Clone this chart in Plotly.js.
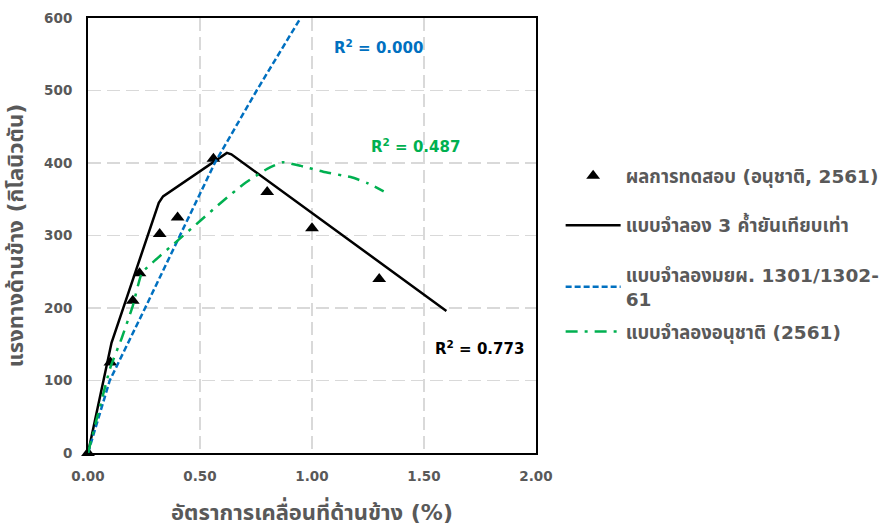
<!DOCTYPE html>
<html>
<head>
<meta charset="utf-8">
<script src="https://cdn.plot.ly/plotly-3.0.1.min.js"></script>
<style>
  html, body { margin: 0; padding: 0; background: #fff; }
  #chart { width: 886px; height: 525px; }
</style>
</head>
<body>
<div id="chart"></div>
<script>
// Test results (drift %, lateral force kN)
const testDrift = [0, 0.10, 0.20, 0.23, 0.32, 0.40, 0.56, 0.80, 1.00, 1.30];
const testForce = [0, 125, 210, 248, 302, 325, 406, 360, 310, 240];

// Three-strut equivalent model
const strutDrift = [0, 0.105, 0.316, 0.335, 0.62, 0.64, 1.60];
const strutForce = [0, 152, 345, 354, 414, 412, 196];

// DPT 1301/1302-61 model
const dptDrift = [0, 0.097, 0.255, 0.41, 0.566, 0.753, 0.949];
const dptForce = [0, 100, 200, 300, 400, 500, 600];

// Anuchat (2561) model
const anuDrift = [0, 0.10, 0.15, 0.20, 0.24, 0.30, 0.40, 0.50, 0.60, 0.70, 0.80, 0.87, 0.95, 1.05, 1.18, 1.25, 1.32];
const anuForce = [0, 118, 158, 203, 248, 266, 293, 320, 347, 372, 392, 401, 396, 388, 380, 372, 361];

const seriesNames = [
  'ผลการทดสอบ (อนุชาติ, 2561)',
  'แบบจำลอง 3 ค้ำยันเทียบเท่า',
  'แบบจำลองมยผ. 1301/1302-<br>61',
  'แบบจำลองอนุชาติ (2561)'
];

const r2Labels = ['R<sup>2</sup> = 0.000', 'R<sup>2</sup> = 0.487', 'R<sup>2</sup> = 0.773'];

const xTitle = 'อัตราการเคลื่อนที่ด้านข้าง (%)';
const yTitle = 'แรงทางด้านข้าง (กิโลนิวตัน)';

const FONT = '"DejaVu Sans", "Noto Sans Thai", sans-serif';
const GREY = '#595959';
const BLUE = '#0070C0';
const GREEN = '#00B050';

const traces = [
  {
    x: testDrift, y: testForce, name: seriesNames[0], type: 'scatter', mode: 'markers',
    marker: { symbol: 'triangle-up', size: 12, color: '#000' },
    cliponaxis: false, legendgroup: 'a'
  },
  {
    x: strutDrift, y: strutForce, name: seriesNames[1], type: 'scatter', mode: 'lines',
    line: { color: '#000', width: 2.5 }, legendgroup: 'b'
  },
  {
    x: dptDrift, y: dptForce, name: seriesNames[2], type: 'scatter', mode: 'lines',
    line: { color: BLUE, width: 2.5, dash: '6px,3px' }, legendgroup: 'c'
  },
  {
    x: anuDrift, y: anuForce, name: seriesNames[3], type: 'scatter', mode: 'lines',
    line: { color: GREEN, width: 2.5, dash: '12px,7px,3px,7px', shape: 'spline', smoothing: 0.4 },
    legend: 'legend2'
  }
];

const axisCommon = {
  showline: true, linecolor: '#000', linewidth: 2, mirror: true,
  showgrid: true, gridcolor: '#D9D9D9', gridwidth: 1.5, griddash: '13px,6px',
  zeroline: false, ticks: '',
  tickfont: { family: FONT, size: 13.5, color: GREY, weight: 'bold' }
};

const legendFont = { family: FONT, size: 18.5, color: GREY, weight: 'bold' };

const layout = {
  width: 886, height: 525,
  margin: { l: 88, r: 350, t: 18, b: 72, autoexpand: false },
  paper_bgcolor: '#fff', plot_bgcolor: '#fff',
  font: { family: FONT },
  showlegend: true,
  legend: {
    x: 1.055, xanchor: 'left', y: 0.68, yanchor: 'top',
    font: legendFont, tracegroupgap: 22.5, itemwidth: 55, bgcolor: 'rgba(0,0,0,0)'
  },
  legend2: {
    x: 1.055, xanchor: 'left', y: 0.322, yanchor: 'top',
    font: legendFont, itemwidth: 55, bgcolor: 'rgba(0,0,0,0)'
  },
  xaxis: Object.assign({}, axisCommon, {
    range: [0, 2], dtick: 0.5, tick0: 0, tickformat: '.2f', ticklabelstandoff: 10,
    title: { text: xTitle, font: { family: FONT, size: 22, color: GREY, weight: 'bold' }, standoff: 21 }
  }),
  yaxis: Object.assign({}, axisCommon, {
    range: [0, 600], dtick: 100, tick0: 0, ticklabelstandoff: 11,
    title: { text: yTitle, font: { family: FONT, size: 22, color: GREY, weight: 'bold' }, standoff: 14 }
  }),
  annotations: [
    { x: 1.295, y: 560, xref: 'x', yref: 'y', text: r2Labels[0], showarrow: false,
      font: { family: FONT, size: 15, color: BLUE, weight: 'bold' } },
    { x: 1.463, y: 424, xref: 'x', yref: 'y', text: r2Labels[1], showarrow: false,
      font: { family: FONT, size: 15, color: GREEN, weight: 'bold' } },
    { x: 1.747, y: 145, xref: 'x', yref: 'y', text: r2Labels[2], showarrow: false,
      font: { family: FONT, size: 15, color: '#000', weight: 'bold' } }
  ]
};

Plotly.newPlot('chart', traces, layout, { displayModeBar: false, staticPlot: true });
</script>
</body>
</html>
